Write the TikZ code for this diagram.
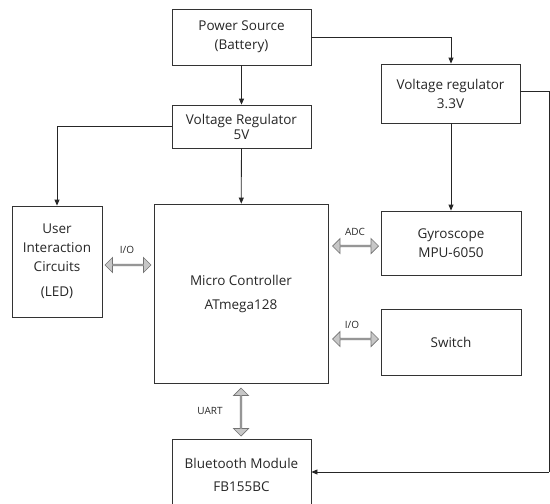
\documentclass[tikz,border=0pt]{standalone}
\usepackage{fontspec}
\setmainfont{Open Sans}
\usetikzlibrary{arrows.meta,shapes.arrows}
\begin{document}
\begin{tikzpicture}[x=1pt,y=-1pt,
  blk/.style={draw=black!80,line width=0.8pt,fill=white,inner sep=0pt,align=center,font=\fontsize{13.5}{19}\selectfont,text=black!85},
  conn/.style={line width=0.8pt,draw=black!85,-{Triangle[length=6pt,width=5pt]}},
  plain/.style={line width=0.8pt,draw=black!85},
  bus/.style={double arrow,draw=black!55,fill=black!22,line width=0.7pt,minimum height=46pt,minimum width=15pt,double arrow head extend=3.5pt,inner sep=0pt},
  lbl/.style={font=\fontsize{10}{11}\selectfont,text=black!85,inner sep=0pt}]
\useasboundingbox (0,0) rectangle (550,504);
\clip (0,0) rectangle (550,504);
\node[blk,minimum width=139pt,minimum height=56pt] (ps) at (241.5,37) {Power Source\\(Battery)};
\node[blk,minimum width=139pt,minimum height=43pt] (v5) at (241.5,126.5) {Voltage Regulator\\[-4pt]5V};
\node[blk,minimum width=139pt,minimum height=59pt] (v33) at (450.5,93.5) {Voltage regulator\\3.3V};
\node[blk,minimum width=90pt,minimum height=111pt] (ui) at (57,261.5) {User\\Interaction\\Circuits\\[6pt](LED)};
\node[blk,minimum width=174pt,minimum height=179pt] (mc) at (241,293.5) {Micro Controller\\[5pt]ATmega128};
\node[blk,minimum width=140pt,minimum height=64pt] (gy) at (451,243) {Gyroscope\\MPU-6050};
\node[blk,minimum width=140pt,minimum height=66pt] (sw) at (451,342) {Switch};
\node[blk,minimum width=139pt,minimum height=72pt] (bt) at (241.5,475) {Bluetooth Module\\[4pt]FB155BC};
\coordinate (c1) at (451,37);
\coordinate (c2) at (57,126.5);
\coordinate (c3) at (549,91);
\coordinate (c4) at (549,472);
\draw[conn] (ps) -- (v5);
\draw[conn] (v5) -- (mc);
\draw[conn] (ps.east |- c1) -| (v33.north -| c1);
\draw[conn] (v5.west |- c2) -| (ui.north);
\draw[conn] (v33.south -| gy.north) -- (gy.north);
\draw[plain] (v33.east |- c3) -- (c3) -- (c4);
\draw[conn] (c4) -- (bt.east |- c4);
\node[bus] (b1) at (128,265) {};
\node[bus] (b2) at (355.5,246) {};
\node[bus] (b3) at (355.5,339) {};
\node[bus,rotate=90,minimum height=48pt] (b4) at (241,412) {};
\node[lbl] (l1) at (127,250) {I/O};
\node[lbl] (l2) at (355,232) {ADC};
\node[lbl] (l3) at (352,325) {I/O};
\node[lbl] (l4) at (210,411) {UART};
\end{tikzpicture}
\end{document}
